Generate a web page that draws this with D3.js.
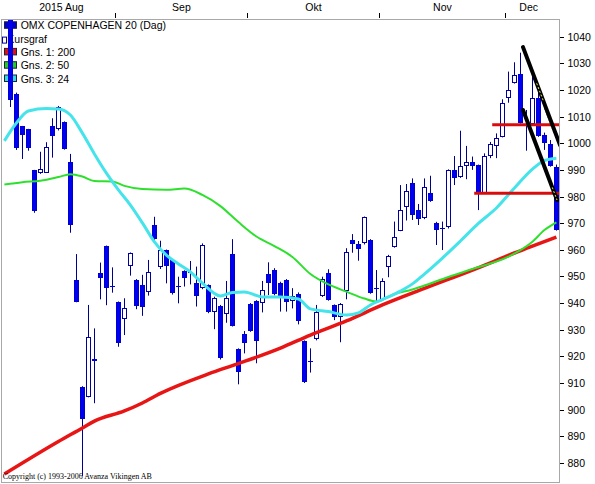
<!DOCTYPE html>
<html><head><meta charset="utf-8">
<script src="https://cdn.jsdelivr.net/npm/d3@7"></script>
<style>body{margin:0;background:#fff}svg{display:block}</style>
</head><body><svg id="c" width="595" height="484"></svg>
<script>
// ---- data ----
const firstDay = "2015-08-06";
const openP  = [1048.5,1018.5,1006.5,1005.4,990.0,988.7,989.0,1006.5,1005.2,1008.0,993.0,948.7,908.6,904.9,919.0,951.2,961.4,946.5,940.4,933.9,954.0,948.7,946.8,944.0,969.3,953.7,959.9,956.2,946.3,952.0,951.8,947.4,945.5,946.8,936.8,939.0,935.8,958.4,922.8,928.4,939.7,940.9,939.9,950.9,952.4,947.5,948.7,940.9,943.4,925.8,918.4,926.4,942.8,951.2,939.3,934.9,944.7,963.7,962.2,962.4,963.7,945.7,941.2,953.7,961.0,967.2,976.0,985.0,974.9,971.8,981.2,970.0,968.0,968.4,990.0,987.2,991.6,992.9,991.8,981.2,995.2,999.0,1002.5,1016.9,1022.7,1026.0,1007.2,1007.2,1016.9,1003.1,999.7,991.2];
const highP  = [1049.0,1019.0,1006.5,1005.4,990.0,996.8,1000.4,1009.4,1014.0,1008.2,996.0,958.4,908.8,939.3,930.5,955.2,961.6,953.4,940.6,941.8,959.0,949.0,950.6,956.2,972.4,963.4,960.1,956.4,949.9,952.3,955.8,953.7,962.4,947.0,942.4,939.3,948.3,964.0,923.0,929.5,940.0,941.1,948.3,955.3,953.1,948.0,949.0,945.6,944.0,926.0,923.0,939.3,949.9,952.7,939.5,940.0,960.6,965.9,963.3,972.5,964.0,952.4,949.3,958.1,970.6,984.3,984.7,986.8,977.2,986.8,987.8,970.5,970.6,990.2,995.2,1004.7,999.0,995.0,992.0,996.2,1000.5,1003.7,1016.5,1026.9,1030.4,1034.0,1012.5,1025.0,1021.2,1004.0,1001.2,992.0];
const lowP   = [1013.6,997.5,994.1,997.2,973.9,988.5,989.0,994.6,1004.8,997.6,966.4,940.3,875.1,904.6,902.4,941.4,939.2,943.9,923.6,928.0,950.3,937.7,935.2,942.8,963.6,952.8,947.4,943.2,939.9,946.2,947.0,938.7,945.2,936.2,930.2,918.8,932.6,931.2,909.5,921.1,929.2,917.4,936.5,943.0,942.9,936.8,936.8,938.0,932.0,910.0,913.9,926.0,942.3,940.9,933.6,925.3,941.4,958.9,955.9,962.0,943.5,940.5,941.0,949.7,960.8,967.0,971.0,971.2,969.3,971.5,978.0,961.8,959.9,968.0,984.3,987.0,986.5,990.0,974.9,981.0,994.4,994.4,1002.2,1015.2,1022.4,1007.4,997.2,1007.0,1002.4,997.5,991.2,967.2];
const closeP = [1016.2,998.1,1003.1,998.2,974.7,990.3,998.6,1002.8,1013.5,998.0,969.4,940.5,896.4,927.2,918.3,949.5,945.8,946.1,925.1,938.0,958.7,939.0,938.7,951.5,964.0,959.9,954.0,943.9,946.0,949.3,951.5,942.8,961.8,936.5,941.8,919.3,941.8,931.5,914.3,924.9,929.6,925.9,944.9,947.4,943.3,942.6,940.5,942.8,933.4,910.5,918.0,936.8,949.0,941.2,934.9,939.7,959.1,962.1,960.2,972.2,943.9,945.3,948.4,957.7,964.7,974.9,982.1,973.1,971.5,983.5,978.4,967.4,968.3,990.0,986.9,991.5,992.9,991.6,981.2,995.2,999.6,1002.1,1015.2,1020.0,1025.6,1007.7,1006.6,1016.9,1002.7,1000.0,991.5,967.4];

// moving averages (day index -> value)
const ma200Idx = [-1,8,12,14,19,22,25,33,38,45,50,56,62,69,77,84,91];
const ma200Val = [875.8,888.0,893.1,895.7,899.5,902.5,906.1,913.4,917.3,923.1,928.0,933.3,939.3,945.5,952.4,958.8,964.8];
const ma50Idx = [-1,2,5,8,10,12,14,17,19,22,26,29,32,35,38,41,44,47,50,53,56,59,61,64,67,69,73,77,83,87,89,91];
const ma50Val = [984.5,985.4,985.9,987.3,988.4,987.5,985.8,985.6,984.0,982.8,982.5,983.0,980.6,976.4,970.4,965.0,961.4,957.3,950.9,947.0,944.3,941.7,940.6,943.4,945.1,946.6,949.8,952.8,957.4,963.0,967.4,970.3];
const ma24Idx = [-1,1,3,6,8,10,12,14,16,18,20,22,24,26,28,30,32,35,37,39,42,45,48,50,53,56,58,60,62,65,67,69,72,75,78,81,84,87,89,91];
const ma24Val = [1000.9,1007.6,1012.1,1013.0,1012.9,1010.6,1003.8,996.0,988.8,982.5,976.8,970.1,963.0,958.0,954.7,951.7,947.5,942.7,944.0,944.2,942.3,942.3,941.5,937.8,936.8,935.5,936.3,939.3,941.3,944.5,947.2,950.9,956.9,963.3,969.9,975.7,983.2,990.3,993.5,994.4];

// drawn support lines and trend lines
const hLineStart = [80.3, 77.3];
const hLineValue = [1006.9, 981.2];
const trendX1 = [85.43, 85.43], trendY1 = [1036.1, 1012.5];
const trendX2 = [91.6, 91.1],   trendY2 = [999.3, 978.7];
const dottedLine = [89.1, 1013.1, 91.1, 1001.2];

const yTicks = [880,890,900,910,920,930,940,950,960,970,980,990,1000,1010,1020,1030,1040];
const monthNames = ["2015 Aug","Sep","Okt","Nov","Dec"];
const legendLabels = ["OMX COPENHAGEN 20 (Dag)","Kursgraf","Gns. 1: 200","Gns. 2: 50","Gns. 3: 24"];
const copyrightText = "Copyright (c) 1993-2006 Avanza Vikingen AB";

// ---- layout ----
const L = 2, R = 559, T = 20, B = 482;
const svg = d3.select("#c");
const x = d3.scaleLinear().domain([-1.4, 91.43]).range([L, R]);
const y = d3.scaleLinear().domain([880, 1040]).range([462.9, 36.7]);
const FONT = "'Liberation Sans', Arial, sans-serif";

// trading days
const days = [];
{ let d = new Date(firstDay + "T12:00:00");
  while (days.length < openP.length) { const wd = d.getDay(); if (wd !== 0 && wd !== 6) days.push(new Date(d)); d.setDate(d.getDate() + 1); } }
const months = [];
days.forEach((d, i) => { const m = d.getMonth(); if (!months.length || months[months.length-1].m !== m) months.push({m, first: i, last: i}); else months[months.length-1].last = i; });

// frame
svg.append("rect").attr("x", L - 0.5).attr("y", T - 0.5).attr("width", R - L + 1).attr("height", B - T + 1)
  .attr("fill", "none").attr("stroke", "#a8a8a8");

// month ticks & labels
months.forEach((mo, k) => {
  if (k > 0) {
    const tx = Math.round(x(mo.first - 0.5)) + 0.5;
    svg.append("line").attr("x1", tx).attr("x2", tx).attr("y1", 13).attr("y2", 18).attr("stroke", "#000");
  }
  const a = Math.max(x(mo.first - 0.5), -5), b = Math.min(x(mo.last + 0.5), 552);
  svg.append("text").attr("x", (a + b) / 2).attr("y", 11).attr("text-anchor", "middle")
    .attr("font-family", FONT).attr("font-size", "10.5px").attr("fill", "#000").text(monthNames[k]);
});

// y axis
yTicks.forEach(v => {
  const ty = Math.round(y(v)) + 0.5;
  svg.append("line").attr("x1", 560).attr("x2", 564).attr("y1", ty).attr("y2", ty).attr("stroke", "#000");
  svg.append("text").attr("x", 567.5).attr("y", ty + 3.8).attr("font-family", FONT).attr("font-size", "10.5px").attr("fill", "#000").text(v);
});

// legend (drawn below candles)
const legendColors = ["#0000cc", null, "#e01010", "#22cc22", "#33dddd"];
legendLabels.forEach((t, k) => {
  const base = 29.3 + k * 13.3;
  if (k === 1) {
    svg.append("rect").attr("x", 2.5).attr("y", base - 5.5).attr("width", 4).attr("height", 6).attr("fill", "#fff").attr("stroke", "#0000a0");
    svg.append("text").attr("x", 7.3).attr("y", base).attr("font-family", FONT).attr("font-size", "10.5px").text(t);
  } else {
    svg.append("rect").attr("x", 4.5).attr("y", base - 7.5).attr("width", 12).attr("height", 6.5).attr("fill", legendColors[k]).attr("stroke", "#202040");
    svg.append("text").attr("x", 20.7).attr("y", base).attr("font-family", FONT).attr("font-size", "10.5px").text(t);
  }
});

// clipped plot
svg.append("clipPath").attr("id", "pc").append("rect").attr("x", L).attr("y", T).attr("width", R - L).attr("height", B - T);
const g = svg.append("g").attr("clip-path", "url(#pc)");

// candles
const cg = g.append("g");
openP.forEach((o, i) => {
  const c = closeP[i], px = Math.round(x(i));
  cg.append("line").attr("x1", px + 0.5).attr("x2", px + 0.5).attr("y1", y(highP[i])).attr("y2", y(lowP[i]))
    .attr("stroke", "#000090").attr("stroke-width", 1);
  const up = c >= o;
  const top = Math.round(y(Math.max(o, c))), bot = Math.round(y(Math.min(o, c)));
  cg.append("rect").attr("x", px - 1.5).attr("y", top + 0.5).attr("width", 4).attr("height", Math.max(bot - top - 1, 0.01))
    .attr("fill", up ? "#fff" : "#0000f0").attr("stroke", up ? "#0000a0" : "#0000d0").attr("stroke-width", 1);
});

// moving averages
const line = d3.line().curve(d3.curveMonotoneX);
function ma(idx, vals, color, w) {
  g.append("path").attr("d", line(idx.map((d, k) => [x(d), y(vals[k])])))
    .attr("fill", "none").attr("stroke", color).attr("stroke-width", w).attr("stroke-linejoin", "round");
}
ma(ma200Idx, ma200Val, "#e81515", 3.5);
ma(ma50Idx, ma50Val, "#2ee02e", 2);
ma(ma24Idx, ma24Val, "#45e3ea", 3);

// horizontal support lines
hLineStart.forEach((s, k) => {
  g.append("line").attr("x1", x(s)).attr("x2", R).attr("y1", y(hLineValue[k])).attr("y2", y(hLineValue[k]))
    .attr("stroke", "#d80c0c").attr("stroke-width", 3);
});

// trend lines
trendX1.forEach((s, k) => {
  g.append("line").attr("x1", x(s)).attr("y1", y(trendY1[k])).attr("x2", x(trendX2[k])).attr("y2", y(trendY2[k]))
    .attr("stroke", "#000").attr("stroke-width", 4).attr("stroke-linecap", "round");
});
g.append("line").attr("x1", x(dottedLine[0])).attr("y1", y(dottedLine[1])).attr("x2", x(dottedLine[2])).attr("y2", y(dottedLine[3]))
  .attr("stroke", "#000").attr("stroke-width", 1.5).attr("stroke-dasharray", "1.5,1.5");
// yellow dashed highlights on the trend lines
const hl = [[0, 0.37, 0.55], [1, 0.86, 1.0]];
hl.forEach(([k, t1, t2]) => {
  const ax = x(trendX1[k]), ay = y(trendY1[k]), bx = x(trendX2[k]), by = y(trendY2[k]);
  g.append("line").attr("x1", ax + (bx - ax) * t1).attr("y1", ay + (by - ay) * t1)
    .attr("x2", ax + (bx - ax) * t2).attr("y2", ay + (by - ay) * t2)
    .attr("stroke", "#f0f040").attr("stroke-width", 1).attr("stroke-dasharray", "2,2");
});

// copyright
svg.append("text").attr("x", 2.7).attr("y", 478.5).attr("font-family", "'Liberation Serif', 'Times New Roman', serif")
  .attr("font-size", "8px").attr("fill", "#000").text(copyrightText);
</script></body></html>
